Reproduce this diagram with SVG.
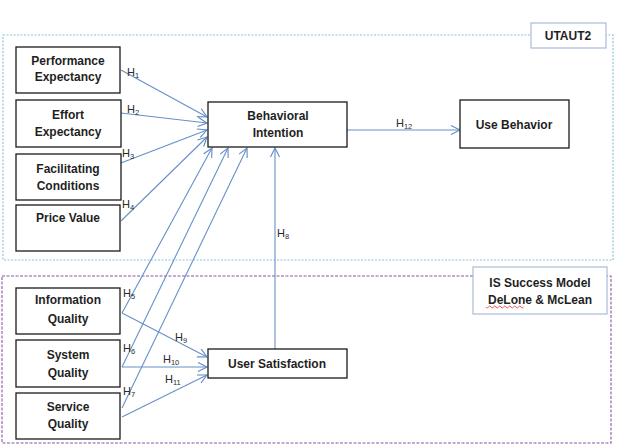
<svg xmlns="http://www.w3.org/2000/svg" width="620" height="446" viewBox="0 0 620 446">
<defs>
<marker id="ah" markerWidth="12" markerHeight="12" refX="10" refY="5" orient="auto" markerUnits="userSpaceOnUse">
<path d="M1,0.5 L10,5 L1,9.5" fill="none" stroke="#5f8ac6" stroke-width="1.1"/>
</marker>
<style>
.node{fill:#fff;stroke:#1a1a1a;stroke-width:1.3}
.t{font-family:"Liberation Sans",Arial,sans-serif;font-weight:bold;font-size:12px;fill:#1f1f1f;text-anchor:middle}
.h{font-family:"Liberation Sans",Arial,sans-serif;font-size:11px;fill:#2a2a2a}
.h tspan.s{font-size:7.5px}
.c{fill:none;stroke:#6790c9;stroke-width:1.1;marker-end:url(#ah)}
.lbl{fill:#fff;stroke:#a9bcd6;stroke-width:1.2}
</style>
</defs>
<rect width="620" height="446" fill="#fff"/>
<g id="utaut2-frame">
<rect x="3" y="35" width="610" height="225" fill="none" stroke="#8cc4dc" stroke-width="1.2" stroke-dasharray="2,1.5"/>
<rect class="lbl" x="531" y="23" width="75" height="25"/>
<text class="t" x="568" y="40">UTAUT2</text>
</g>
<g id="is-frame">
<rect x="2" y="276" width="609" height="167" fill="none" stroke="#8a55a8" stroke-width="1.1" stroke-dasharray="3,1.5"/>
<rect class="lbl" x="473" y="267" width="134" height="47"/>
<text class="t" x="540" y="287">IS Success Model</text>
<text class="t" x="540" y="304">DeLone &amp; McLean</text>
<path d="M486,307 q1.25,2 2.5,0 t2.5,0 t2.5,0 t2.5,0 t2.5,0 t2.5,0 t2.5,0 t2.5,0 t2.5,0 t2.5,0 t2.5,0 t2.5,0 t2.5,0 t2.5,0 t2.5,0" fill="none" stroke="#e03030" stroke-width="0.8"/>
</g>
<g id="connectors">
<line class="c" x1="121" y1="70" x2="207" y2="117"/>
<line class="c" x1="121" y1="113" x2="207" y2="123"/>
<line class="c" x1="121" y1="163" x2="207" y2="130"/>
<line class="c" x1="121" y1="221" x2="207" y2="137"/>
<line class="c" x1="122" y1="313" x2="212" y2="148"/>
<line class="c" x1="122" y1="367" x2="228" y2="148"/>
<line class="c" x1="122" y1="408" x2="247" y2="148"/>
<line class="c" x1="275" y1="349" x2="275" y2="148"/>
<line class="c" x1="122" y1="313" x2="207" y2="357"/>
<line class="c" x1="122" y1="367" x2="207" y2="367"/>
<line class="c" x1="122" y1="417" x2="207" y2="375"/>
<line class="c" x1="347" y1="130" x2="460" y2="130"/>
<text class="h" x="127" y="76">H<tspan class="s" dy="2">1</tspan></text>
<text class="h" x="127" y="113">H<tspan class="s" dy="2">2</tspan></text>
<text class="h" x="122" y="157">H<tspan class="s" dy="2">3</tspan></text>
<text class="h" x="122" y="208">H<tspan class="s" dy="2">4</tspan></text>
<text class="h" x="123" y="297">H<tspan class="s" dy="2">5</tspan></text>
<text class="h" x="123" y="352">H<tspan class="s" dy="2">6</tspan></text>
<text class="h" x="123" y="395">H<tspan class="s" dy="2">7</tspan></text>
<text class="h" x="277" y="237">H<tspan class="s" dy="2">8</tspan></text>
<text class="h" x="175" y="341">H<tspan class="s" dy="2">9</tspan></text>
<text class="h" x="163" y="363">H<tspan class="s" dy="2">10</tspan></text>
<text class="h" x="165" y="383">H<tspan class="s" dy="2">11</tspan></text>
<text class="h" x="396" y="127">H<tspan class="s" dy="2">12</tspan></text>
</g>
<g id="performance-expectancy">
<rect class="node" x="16" y="47" width="104" height="46"/>
<text class="t" x="68" y="65">Performance</text>
<text class="t" x="68" y="81">Expectancy</text>
</g>
<g id="effort-expectancy">
<rect class="node" x="16" y="100" width="105" height="47"/>
<text class="t" x="68" y="119">Effort</text>
<text class="t" x="68" y="136">Expectancy</text>
</g>
<g id="facilitating-conditions">
<rect class="node" x="16" y="154" width="105" height="46"/>
<text class="t" x="68" y="173">Facilitating</text>
<text class="t" x="68" y="190">Conditions</text>
</g>
<g id="price-value">
<rect class="node" x="16" y="205" width="104" height="46"/>
<text class="t" x="68" y="222">Price Value</text>
</g>
<g id="behavioral-intention">
<rect class="node" x="208" y="102" width="139" height="45"/>
<text class="t" x="278" y="120">Behavioral</text>
<text class="t" x="278" y="137">Intention</text>
</g>
<g id="use-behavior">
<rect class="node" x="460" y="100" width="109" height="48"/>
<text class="t" x="514" y="129">Use Behavior</text>
</g>
<g id="information-quality">
<rect class="node" x="16" y="288" width="104" height="46"/>
<text class="t" x="68" y="304">Information</text>
<text class="t" x="68" y="323">Quality</text>
</g>
<g id="system-quality">
<rect class="node" x="16" y="340" width="104" height="47"/>
<text class="t" x="68" y="359">System</text>
<text class="t" x="68" y="377">Quality</text>
</g>
<g id="service-quality">
<rect class="node" x="16" y="393" width="104" height="46"/>
<text class="t" x="68" y="411">Service</text>
<text class="t" x="68" y="428">Quality</text>
</g>
<g id="user-satisfaction">
<rect class="node" x="208" y="349" width="139" height="29"/>
<text class="t" x="277" y="368">User Satisfaction</text>
</g>
</svg>
